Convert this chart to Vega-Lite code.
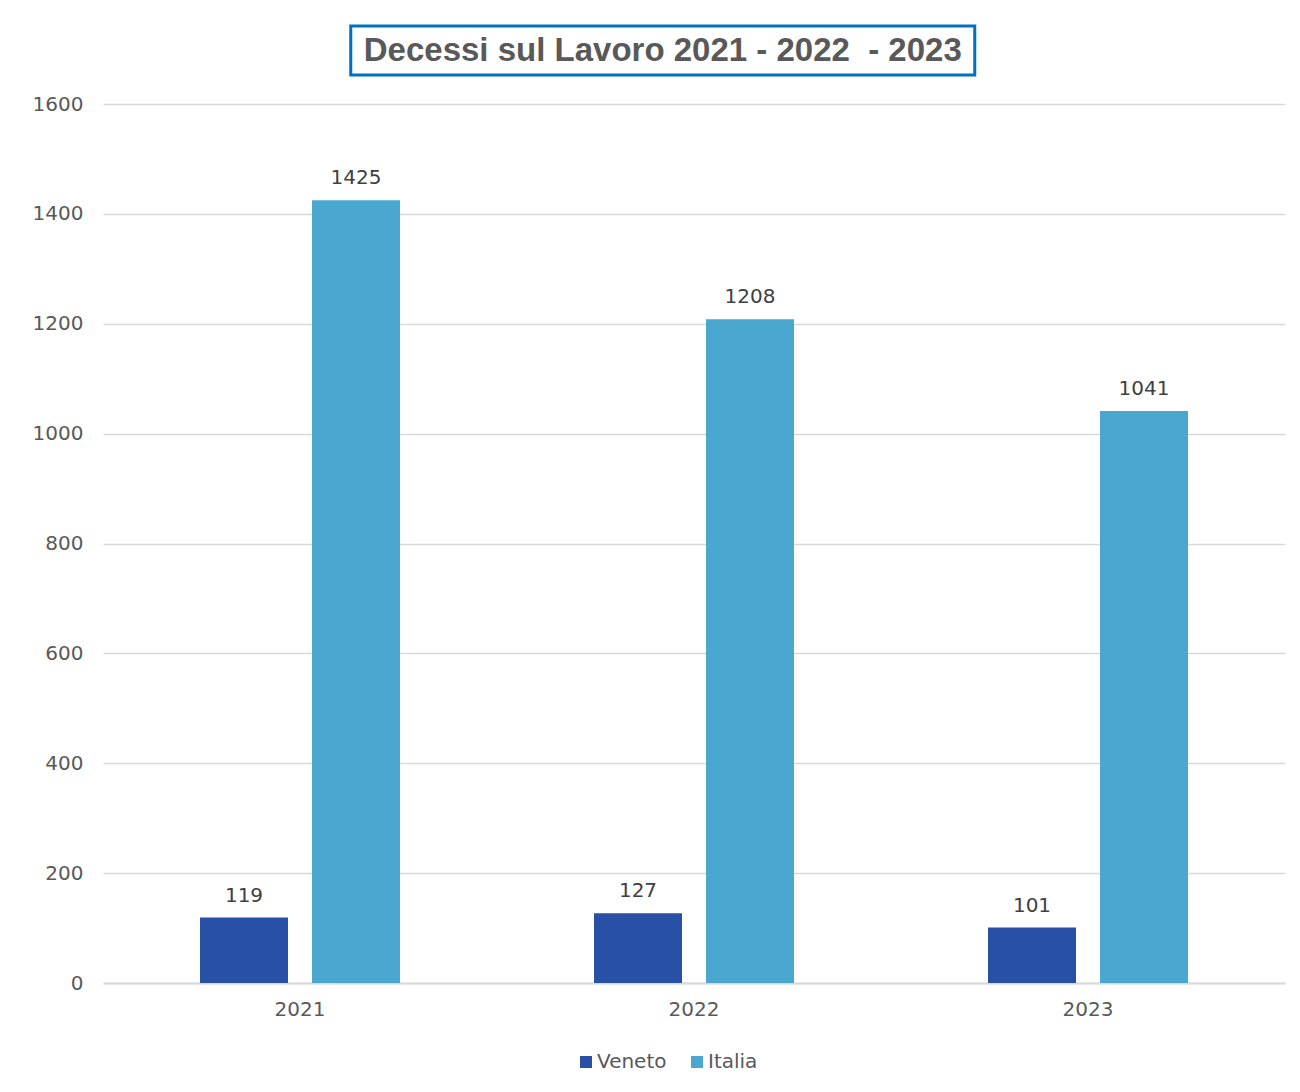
{
  "$schema": "https://vega.github.io/schema/vega-lite/v6.json",
  "background": "white",
  "padding": {"left": 32, "top": 24, "right": 15, "bottom": 10},
  "config": {
    "font": "DejaVu Sans",
    "view": {"stroke": null}
  },
  "center": true,
  "spacing": 17,
  "vconcat": [
    {
      "width": 624,
      "height": 49,
      "view": {"stroke": "#0070c0", "strokeWidth": 3, "fill": "white"},
      "data": {"values": [{"t": "Decessi sul Lavoro 2021 - 2022 \u00a0- 2023"}]},
      "mark": {"type": "text", "font": "Liberation Sans", "fontWeight": "bold", "fontSize": 33, "color": "#595959", "baseline": "middle", "align": "center"},
      "encoding": {
        "text": {"field": "t"},
        "y": {"field": "t", "type": "nominal", "axis": {"orient": "right", "title": null, "labels": false, "ticks": false, "grid": false, "domain": true, "domainColor": "white", "domainWidth": 2, "offset": 61}}
      }
    },
    {
      "width": 1182,
      "height": 879,
      "data": {
        "values": [
          {"anno": "2021", "regione": "Veneto", "decessi": 119},
          {"anno": "2021", "regione": "Italia", "decessi": 1425},
          {"anno": "2022", "regione": "Veneto", "decessi": 127},
          {"anno": "2022", "regione": "Italia", "decessi": 1208},
          {"anno": "2023", "regione": "Veneto", "decessi": 101},
          {"anno": "2023", "regione": "Italia", "decessi": 1041}
        ]
      },
      "encoding": {
        "x": {
          "field": "anno", "type": "nominal",
          "scale": {"paddingInner": 0.4924, "paddingOuter": 0.2462},
          "axis": {"title": null, "labelAngle": 0, "ticks": false, "domain": true, "domainColor": "#d9d9d9", "domainWidth": 2, "labelFontSize": 20, "labelColor": "#595959", "labelPadding": 16}
        },
        "xOffset": {
          "field": "regione", "type": "nominal",
          "scale": {"domain": ["Veneto", "Italia"], "paddingInner": 0.2143, "paddingOuter": 0}
        },
        "y": {
          "field": "decessi", "type": "quantitative",
          "scale": {"domain": [0, 1600], "nice": false},
          "axis": {"title": null, "format": "d", "values": [0, 200, 400, 600, 800, 1000, 1200, 1400, 1600], "ticks": false, "domain": false, "grid": true, "gridColor": "#d9d9d9", "gridWidth": 1.3, "labelFontSize": 20, "labelColor": "#595959", "labelPadding": 20}
        }
      },
      "layer": [
        {
          "mark": {"type": "bar"},
          "encoding": {
            "color": {
              "field": "regione", "type": "nominal",
              "scale": {"domain": ["Veneto", "Italia"], "range": ["#2850a5", "#4aa8d0"]},
              "legend": {"title": null, "orient": "none", "legendX": 473, "legendY": 1026, "direction": "horizontal", "symbolType": "square", "symbolSize": 144, "symbolStrokeWidth": 0, "labelFontSize": 20, "labelColor": "#595959", "labelOffset": 1, "columnPadding": 20, "padding": 0}
            }
          }
        },
        {
          "mark": {"type": "text", "baseline": "bottom", "dy": -12, "fontSize": 20, "color": "#404040"},
          "encoding": {"text": {"field": "decessi", "type": "quantitative"}}
        }
      ]
    }
  ]
}
